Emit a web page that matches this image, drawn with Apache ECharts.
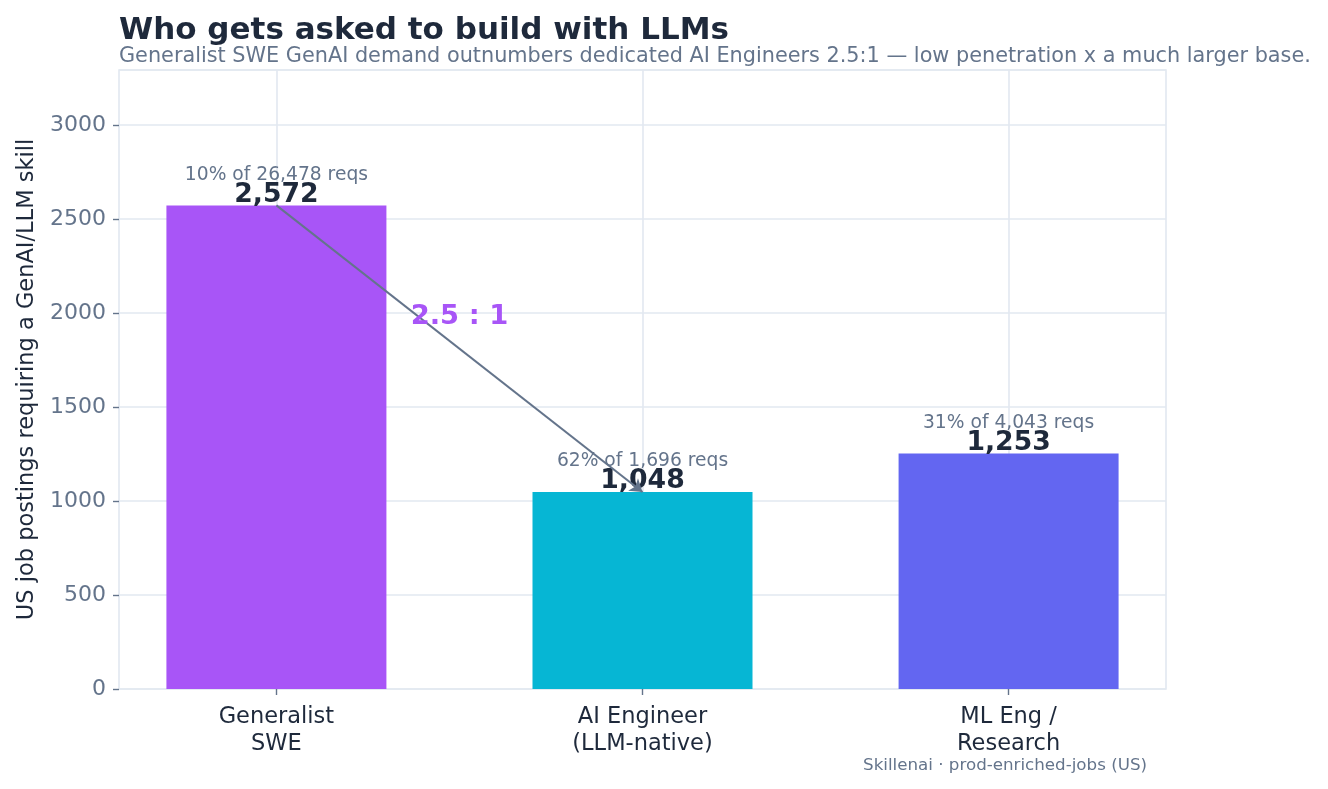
<!DOCTYPE html>
<html>
<head>
<meta charset="utf-8">
<script src="https://cdn.jsdelivr.net/npm/echarts@6/dist/echarts.min.js"></script>
<style>
  html, body { margin: 0; padding: 0; background: #fff; }
  #chart { width: 1328px; height: 789px; }
</style>
</head>
<body>
<div id="chart"></div>
<script>
const categories = ['Generalist\nSWE', 'AI Engineer\n(LLM-native)', 'ML Eng /\nResearch'];
const postings = [2572, 1048, 1253];
const shareLabels = ['10% of 26,478 reqs', '62% of 1,696 reqs', '31% of 4,043 reqs'];
const barColors = ['#a855f7', '#06b6d4', '#6366f1'];
const yTicks = [0, 500, 1000, 1500, 2000, 2500, 3000];
const ratioText = '2.5 : 1';

const font = 'DejaVu Sans, sans-serif';
const slate = '#64748b';
const ink = '#1e293b';
const gridColor = '#e2e8f0';
const yMax = 3292;

const chart = echarts.init(document.getElementById('chart'), null, { renderer: 'canvas' });

// second grid, same box: only carries the y tick marks
const plotBox = { left: 119, right: 162, top: 70, bottom: 100, outerBoundsMode: 'none', containLabel: false };

chart.setOption({
  animation: false,
  backgroundColor: '#fff',
  textStyle: { fontFamily: font },
  title: [
    {
      text: 'Who gets asked to build with LLMs',
      left: 114, top: 10,
      textStyle: { fontFamily: font, fontSize: 31, fontWeight: 'bold', color: ink }
    },
    {
      text: 'Generalist SWE GenAI demand outnumbers dedicated AI Engineers 2.5:1 \u2014 low penetration x a much larger base.',
      left: 114, top: 41,
      textStyle: { fontFamily: font, fontSize: 20.8, fontWeight: 'normal', color: slate }
    },
    {
      text: 'Skillenai \u00b7 prod-enriched-jobs (US)',
      right: 176, top: 752,
      textStyle: { fontFamily: font, fontSize: 16.7, fontWeight: 'normal', color: slate }
    }
  ],
  grid: [
    Object.assign({ show: true, borderColor: gridColor, borderWidth: 1.6 }, plotBox),
    Object.assign({ show: false }, plotBox)
  ],
  xAxis: [
    {
      type: 'value',
      min: -0.43, max: 2.43,
      axisLine: { show: false },
      axisTick: { show: true, customValues: [0, 1, 2], length: 6, lineStyle: { color: slate, width: 1.4 } },
      splitLine: { show: true, lineStyle: { color: gridColor, width: 1.6 } },
      axisLabel: {
        customValues: [0, 1, 2],
        formatter: v => categories[Math.round(v)],
        fontFamily: font, fontSize: 22.5, color: ink, lineHeight: 27, margin: 15
      }
    },
    { type: 'value', gridIndex: 1, min: 0, max: 1, show: false }
  ],
  yAxis: [
    {
      type: 'value',
      min: 0, max: yMax,
      name: 'US job postings requiring a GenAI/LLM skill',
      nameLocation: 'middle', nameGap: 79,
      nameTextStyle: { fontFamily: font, fontSize: 22.5, color: ink },
      axisLine: { show: false },
      axisTick: { show: false },
      axisLabel: {
        customValues: yTicks, formatter: v => String(v),
        fontFamily: font, fontSize: 22, color: slate, margin: 13
      },
      splitLine: { lineStyle: { color: gridColor, width: 1.6 } }
    },
    {
      type: 'value', gridIndex: 1,
      min: 0, max: yMax, position: 'left',
      axisLine: { show: false },
      axisTick: { show: true, customValues: yTicks, length: 6, lineStyle: { color: slate, width: 1.4 } },
      axisLabel: { show: false },
      splitLine: { show: false }
    }
  ],
  series: [
    {
      type: 'bar',
      barWidth: 220,
      data: postings.map((v, i) => ({ value: [i, v], itemStyle: { color: barColors[i] } })),
      label: {
        show: true,
        position: 'top',
        distance: -3,
        formatter: p => '{a|' + shareLabels[p.dataIndex] + '}\n{b|' + postings[p.dataIndex].toLocaleString('en-US') + '}',
        rich: {
          a: { fontFamily: font, fontSize: 18.7, color: slate, lineHeight: 13, align: 'center' },
          b: { fontFamily: font, fontSize: 26.7, fontWeight: 'bold', color: ink, lineHeight: 27, align: 'center' }
        }
      },
      markLine: {
        silent: true,
        symbol: ['none', 'arrow'],
        symbolSize: 12,
        label: { show: false },
        lineStyle: { color: slate, width: 2, type: 'solid' },
        data: [[{ coord: [0, postings[0]] }, { coord: [1, postings[1]] }]],
        z: 5
      },
      markPoint: {
        silent: true,
        symbol: 'circle', symbolSize: 1,
        itemStyle: { color: 'rgba(0,0,0,0)' },
        label: {
          show: true, position: 'inside', formatter: ratioText, offset: [0, -32],
          fontFamily: font, fontSize: 27.4, fontWeight: 'bold', color: '#a855f7'
        },
        data: [{ coord: [0.5, (postings[0] + postings[1]) / 2] }]
      },
      z: 2
    }
  ]
});
</script>
</body>
</html>
